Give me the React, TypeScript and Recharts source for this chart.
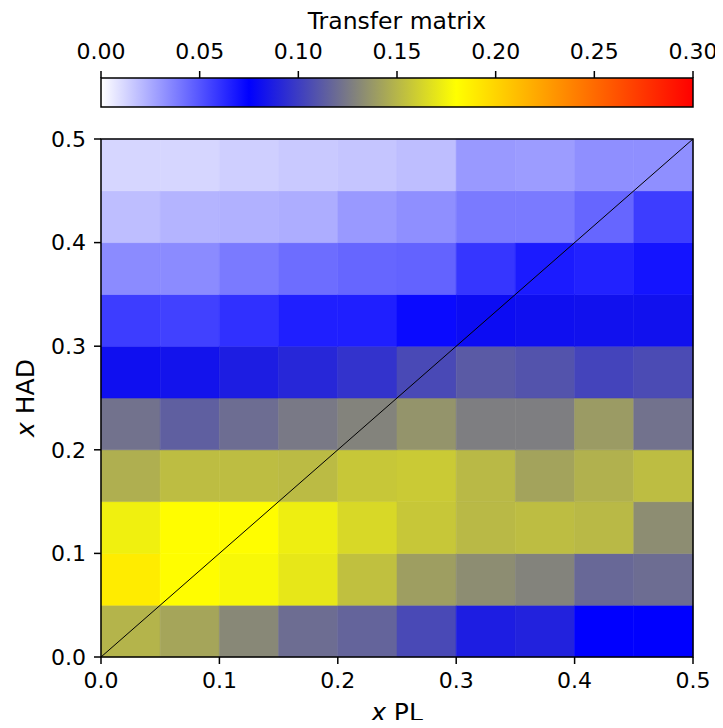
import React from "react";
import { ComposedChart, XAxis, YAxis, Line, ReferenceArea, Label } from "recharts";

// bin edges (x PL along columns, x HAD along rows)
const X_EDGES = [0, 0.05, 0.1, 0.15, 0.2, 0.25, 0.3, 0.35, 0.4, 0.45, 0.5];
const Y_EDGES = [0, 0.05, 0.1, 0.15, 0.2, 0.25, 0.3, 0.35, 0.4, 0.45, 0.5];
const AXIS_TICKS = [0, 0.1, 0.2, 0.3, 0.4, 0.5];
const CBAR_TICKS = [0, 0.05, 0.1, 0.15, 0.2, 0.25, 0.3];
const CBAR_RANGE = [
  { v: 0, y: 0 },
  { v: 0.3, y: 1 },
];
const DIAGONAL = [
  { x: 0, y: 0 },
  { x: 0.5, y: 0.5 },
];

// transfer matrix rows, bottom (x HAD 0-0.05) to top (0.45-0.5)
const had_00 = [0.149, 0.143, 0.131, 0.12, 0.116, 0.105, 0.087, 0.089, 0.075, 0.075];
const had_05 = [0.189, 0.181, 0.177, 0.17, 0.154, 0.14, 0.133, 0.129, 0.118, 0.12];
const had_10 = [0.174, 0.181, 0.181, 0.173, 0.164, 0.157, 0.151, 0.153, 0.151, 0.133];
const had_15 = [0.147, 0.153, 0.153, 0.152, 0.157, 0.158, 0.151, 0.142, 0.148, 0.153];
const had_20 = [0.122, 0.114, 0.12, 0.125, 0.129, 0.136, 0.127, 0.127, 0.139, 0.122];
const had_25 = [0.081, 0.083, 0.087, 0.091, 0.096, 0.105, 0.112, 0.109, 0.103, 0.106];
const had_30 = [0.057, 0.056, 0.061, 0.066, 0.066, 0.072, 0.08, 0.081, 0.082, 0.082];
const had_35 = [0.034, 0.034, 0.039, 0.043, 0.045, 0.046, 0.059, 0.067, 0.065, 0.069];
const had_40 = [0.019, 0.022, 0.023, 0.024, 0.03, 0.033, 0.039, 0.039, 0.045, 0.057];
const had_45 = [0.012, 0.012, 0.014, 0.016, 0.017, 0.019, 0.03, 0.029, 0.033, 0.033];
const TRANSFER = [had_00, had_05, had_10, had_15, had_20, had_25, had_30, had_35, had_40, had_45];

const VMAX = 0.3;
const CMAP: [number, number[]][] = [
  [0, [255, 255, 255]],
  [0.25, [0, 0, 255]],
  [0.6, [255, 255, 0]],
  [1, [255, 0, 0]],
];

function colorFor(v: number) {
  const t = Math.max(0, Math.min(1, v / VMAX));
  for (let i = 1; i < CMAP.length; i++) {
    const [p0, c0] = CMAP[i - 1];
    const [p1, c1] = CMAP[i];
    if (t <= p1) {
      const f = (t - p0) / (p1 - p0);
      const c = c0.map((a, k) => Math.round(a + (c1[k] - a) * f));
      return `rgb(${c[0]},${c[1]},${c[2]})`;
    }
  }
  return "rgb(255,0,0)";
}

const FONT = "DejaVu Sans, sans-serif";
const tickStyle = { fontSize: 22, fill: "#000", fontFamily: FONT };

export default function App() {
  return (
    <div style={{ position: "relative", width: 723, height: 728, margin: -8, background: "#fff", fontFamily: FONT }}>
      {/* heatmap */}
      <div style={{ position: "absolute", left: 0, top: 0 }}>
        <ComposedChart width={723} height={728} data={DIAGONAL} margin={{ top: 139, right: 30, bottom: 0, left: 0 }}>
          <XAxis
            dataKey="x"
            type="number"
            domain={[0, 0.5]}
            ticks={AXIS_TICKS}
            tickFormatter={(v) => v.toFixed(1)}
            height={71}
            tick={tickStyle}
            tickSize={7}
            tickMargin={8}
            tickLine={{ stroke: "#000", strokeWidth: 1.5 }}
            axisLine={false}
            interval={0}
            allowDataOverflow
          >
            <Label
              content={(p: any) => {
                const vb = p.viewBox || {};
                return (
                  <text x={vb.x + vb.width / 2} y={vb.y + 64} textAnchor="middle" fontSize={25} fontFamily={FONT} fill="#000">
                    <tspan fontStyle="italic">x</tspan> PL
                  </text>
                );
              }}
            />
          </XAxis>
          <YAxis
            dataKey="y"
            type="number"
            domain={[0, 0.5]}
            ticks={AXIS_TICKS}
            tickFormatter={(v) => v.toFixed(1)}
            width={101}
            tick={tickStyle}
            tickSize={7}
            tickMargin={8}
            tickLine={{ stroke: "#000", strokeWidth: 1.5 }}
            axisLine={false}
            interval={0}
            allowDataOverflow
          >
            <Label
              content={(p: any) => {
                const vb = p.viewBox || {};
                const cy = vb.y + vb.height / 2;
                return (
                  <text x={34} y={cy} transform={`rotate(-90, 34, ${cy})`} textAnchor="middle" fontSize={25} fontFamily={FONT} fill="#000">
                    <tspan fontStyle="italic">x</tspan> HAD
                  </text>
                );
              }}
            />
          </YAxis>
          {TRANSFER.map((row, j) =>
            row.map((v, i) => (
              <ReferenceArea
                key={`c-${j}-${i}`}
                x1={X_EDGES[i]}
                x2={X_EDGES[i + 1]}
                y1={Y_EDGES[j]}
                y2={Y_EDGES[j + 1]}
                fill={colorFor(v)}
                fillOpacity={1}
                stroke={colorFor(v)}
                strokeWidth={0.6}
              />
            ))
          )}
          <Line dataKey="y" stroke="#000" strokeWidth={1} dot={false} activeDot={false} isAnimationActive={false} />
          <ReferenceArea x1={0} x2={0.5} y1={0} y2={0.5} fill="none" stroke="#000" strokeWidth={1.5} />
        </ComposedChart>
      </div>

      {/* colorbar */}
      <div style={{ position: "absolute", left: 0, top: 0 }}>
        <ComposedChart width={723} height={110} data={CBAR_RANGE} margin={{ top: 0, right: 30, bottom: 3, left: 101 }}>
          <defs>
            <linearGradient id="cmap" x1="0" y1="0" x2="1" y2="0">
              {CMAP.map(([p, c]) => (
                <stop key={p} offset={p} stopColor={`rgb(${c[0]},${c[1]},${c[2]})`} />
              ))}
            </linearGradient>
          </defs>
          <XAxis
            dataKey="v"
            type="number"
            orientation="top"
            domain={[0, VMAX]}
            ticks={CBAR_TICKS}
            tickFormatter={(v) => v.toFixed(2)}
            height={78}
            tick={tickStyle}
            tickSize={7}
            tickMargin={12}
            tickLine={{ stroke: "#000", strokeWidth: 1.5 }}
            axisLine={false}
            interval={0}
          >
            <Label
              content={(p: any) => {
                const vb = p.viewBox || {};
                return (
                  <text x={vb.x + vb.width / 2} y={vb.y + 29} textAnchor="middle" fontSize={23.5} fontFamily={FONT} fill="#000">
                    Transfer matrix
                  </text>
                );
              }}
            />
          </XAxis>
          <YAxis dataKey="y" type="number" domain={[0, 1]} hide />
          <ReferenceArea
            x1={0}
            x2={VMAX}
            y1={0}
            y2={1}
            fill="url(#cmap)"
            fillOpacity={1}
            stroke="#000"
            strokeWidth={1.5}
          />
        </ComposedChart>
      </div>
    </div>
  );
}
